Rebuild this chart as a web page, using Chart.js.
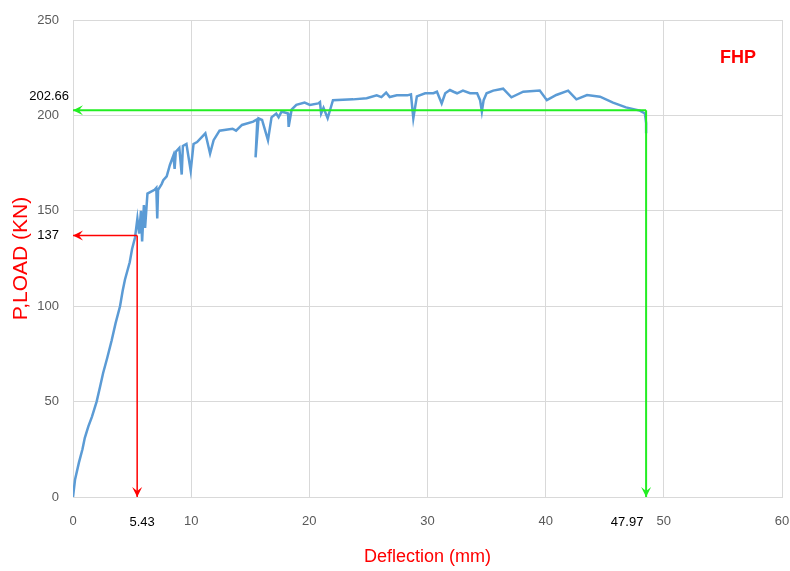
<!DOCTYPE html>
<html>
<head>
<meta charset="utf-8">
<title>FHP load-deflection</title>
<script src="https://cdn.jsdelivr.net/npm/chart.js@4.4.1/dist/chart.umd.min.js"></script>
<style>
  html, body { margin: 0; padding: 0; background: #fff; }
  #wrap { width: 790px; height: 571px; }
</style>
</head>
<body>
<div id="wrap"><canvas id="loadChart" width="790" height="571"></canvas></div>
<script>
// load-deflection curve
const deflection = [
    0, 0.17, 0.5, 0.8, 1.0, 1.3, 1.6, 2.0, 2.3, 2.55, 2.9, 3.27, 3.6, 3.98, 4.2, 4.4, 4.8, 5.0, 5.25,
    5.45, 5.6, 5.75, 5.85, 6.0, 6.1, 6.3, 6.9, 7.05, 7.13, 7.2, 7.5, 7.64, 7.93, 8.2, 8.5, 8.6, 8.7,
    9.0, 9.2, 9.3, 9.6, 9.96, 10.2, 10.5, 11.2, 11.3, 11.6, 11.9, 12.4, 13.5, 13.8, 14.3, 15.25,
    15.6, 15.45, 15.7, 16.0, 16.5, 16.8, 17.2, 17.4, 17.65, 18.2, 18.25, 18.5, 18.9, 19.6, 20.05,
    20.75, 20.9, 21.0, 21.2, 21.55, 22.0, 23.7, 24.85, 25.7, 26.1, 26.5, 26.8, 27.4, 28.3, 28.6,
    28.8, 29.1, 29.8, 30.5, 30.8, 31.2, 31.5, 31.9, 32.2, 32.5, 33.0, 33.6, 34.2, 34.45, 34.6,
    34.75, 35.0, 35.56, 36.4, 37.1, 38.1, 39.5, 40.1, 40.9, 41.9, 42.6, 43.5, 44.6, 45.7, 46.8,
    47.97, 48.4, 48.5, 48.5
];
const load = [
    0, 9, 18, 25, 31, 37, 42, 50, 58, 65, 73, 82, 91, 100, 108, 114, 123, 130, 136,
    146, 138, 150, 134, 153, 141, 159, 161, 162, 146, 161, 164, 166, 168, 174, 179, 172, 181,
    183, 169, 184, 185, 171, 185, 186, 190.6, 188, 180, 187, 192, 193, 192, 195, 196.7,
    198, 178, 198.4, 197.6, 187, 199, 201, 199, 202, 201, 194, 203, 205.5, 206.7, 205.5,
    206.3, 207, 201, 204, 198.5, 208, 208.4, 209, 210.5, 209.6, 212, 209.6, 210.5, 210.5, 211,
    198.5, 210, 211.6, 211.6, 212.4, 206.3, 211.6, 213.3, 212.4, 211.6, 213, 211.6, 211.6, 208, 202,
    208, 211.6, 213, 214, 209.5, 212.4, 213, 208, 210.7, 213, 208.4, 210.7, 209.8, 206.7, 204.2,
    202.5, 201, 196, 190.6
];

const xTicks = [0, 10, 20, 30, 40, 50, 60];
const yTicks = [0, 50, 100, 150, 200, 250];

// marked points (labels as printed, arrows where they sit in the figure)
const yieldDefl = 5.43;
const yieldLoad = 137;
const ultDefl = 48.5;       // end of the curve, where the green arrow is drawn
const ultLoad = 202.66;
const yieldDeflText = '5.43';
const yieldLoadText = '137';
const ultDeflText = '47.97';
const ultLoadText = '202.66';

const RED = '#ff0000';
const GREEN = '#22ee22';
const tickFont = { family: 'Liberation Sans', size: 13 };

const curvePoints = deflection.map((d, i) => ({ x: d, y: load[i] }));

function arrowHead(ctx, px, py, dir, color) {
    // stealth style head, tip at (px, py)
    const len = 10, half = 5, notch = 6;
    ctx.save();
    ctx.translate(px, py);
    const rot = { left: Math.PI, right: 0, down: Math.PI / 2, up: -Math.PI / 2 }[dir];
    ctx.rotate(rot);
    ctx.beginPath();
    ctx.moveTo(0, 0);
    ctx.lineTo(-len, -half);
    ctx.lineTo(-notch, 0);
    ctx.lineTo(-len, half);
    ctx.closePath();
    ctx.fillStyle = color;
    ctx.fill();
    ctx.restore();
}

const markerPlugin = {
    id: 'markers',
    afterDatasetsDraw(chart) {
        const ctx = chart.ctx;
        const x = chart.scales.x;
        const y = chart.scales.y;
        arrowHead(ctx, x.getPixelForValue(0), y.getPixelForValue(yieldLoad), 'left', RED);
        arrowHead(ctx, x.getPixelForValue(yieldDefl), y.getPixelForValue(0), 'down', RED);
        arrowHead(ctx, x.getPixelForValue(0), y.getPixelForValue(ultLoad), 'left', GREEN);
        arrowHead(ctx, x.getPixelForValue(ultDefl), y.getPixelForValue(0), 'down', GREEN);
    },
    afterDraw(chart) {
        const ctx = chart.ctx;
        const x = chart.scales.x;
        const y = chart.scales.y;
        const area = chart.chartArea;
        ctx.save();
        ctx.font = '13px "Liberation Sans"';
        ctx.fillStyle = '#000';
        ctx.textBaseline = 'middle';
        ctx.textAlign = 'center';
        ctx.fillText(yieldDeflText, x.getPixelForValue(yieldDefl) + 5, area.bottom + 25);
        ctx.fillText(ultDeflText, x.getPixelForValue(ultDefl) - 19, area.bottom + 25);
        ctx.textAlign = 'right';
        ctx.fillText(yieldLoadText, area.left - 14, y.getPixelForValue(yieldLoad));
        ctx.fillText(ultLoadText, area.left - 4, y.getPixelForValue(ultLoad) - 14);

        ctx.font = 'bold 18px "Liberation Sans"';
        ctx.fillStyle = RED;
        ctx.textAlign = 'center';
        ctx.fillText('FHP', area.right - 44, area.top + 38);
        ctx.restore();
    }
};

new Chart(document.getElementById('loadChart'), {
    type: 'scatter',
    data: {
        datasets: [
            {
                label: 'yield h',
                data: [{ x: yieldDefl, y: yieldLoad }, { x: 0, y: yieldLoad }],
                showLine: true, borderColor: RED, borderWidth: 1.5, pointRadius: 0
            },
            {
                label: 'yield v',
                data: [{ x: yieldDefl, y: yieldLoad }, { x: yieldDefl, y: 0 }],
                showLine: true, borderColor: RED, borderWidth: 1.5, pointRadius: 0
            },
            {
                label: 'ult h',
                data: [{ x: ultDefl, y: ultLoad }, { x: 0, y: ultLoad }],
                showLine: true, borderColor: GREEN, borderWidth: 2, pointRadius: 0
            },
            {
                label: 'ult v',
                data: [{ x: ultDefl, y: ultLoad }, { x: ultDefl, y: 0 }],
                showLine: true, borderColor: GREEN, borderWidth: 2, pointRadius: 0
            },
            {
                label: 'FHP',
                data: curvePoints,
                showLine: true,
                borderColor: '#5b9bd5',
                borderWidth: 2.5,
                pointRadius: 0,
                tension: 0
            }
        ]
    },
    options: {
        responsive: false,
        animation: false,
        layout: { padding: { top: 20, right: 8, left: 0, bottom: 0 } },
        plugins: {
            legend: { display: false },
            tooltip: { enabled: false }
        },
        scales: {
            x: {
                type: 'linear',
                min: 0,
                max: 60,
                afterBuildTicks(scale) { scale.ticks = xTicks.map(v => ({ value: v })); },
                afterFit(scale) {
                    scale.height = 74;
                    // let the last tick label hang over the right padding
                    scale.paddingLeft = 0;
                    scale.paddingRight = 0;
                },
                ticks: { color: '#595959', font: tickFont, padding: 17 },
                grid: { color: '#d9d9d9', drawTicks: false },
                border: { color: '#d9d9d9' },
                title: {
                    display: true,
                    text: 'Deflection (mm)',
                    color: RED,
                    font: { family: 'Liberation Sans', size: 18 },
                    padding: { top: 0, bottom: 3 }
                }
            },
            y: {
                min: 0,
                max: 250,
                afterBuildTicks(scale) { scale.ticks = yTicks.map(v => ({ value: v })); },
                afterFit(scale) {
                    scale.width = 73;
                    scale.paddingTop = 0;
                    scale.paddingBottom = 0;
                },
                ticks: { color: '#595959', font: tickFont, padding: 14 },
                grid: { color: '#d9d9d9', drawTicks: false },
                border: { color: '#d9d9d9' },
                title: {
                    display: true,
                    text: 'P,LOAD (KN)',
                    color: RED,
                    font: { family: 'Liberation Sans', size: 21 },
                    padding: { top: 9, bottom: 0 }
                }
            }
        }
    },
    plugins: [markerPlugin]
});
</script>
</body>
</html>
